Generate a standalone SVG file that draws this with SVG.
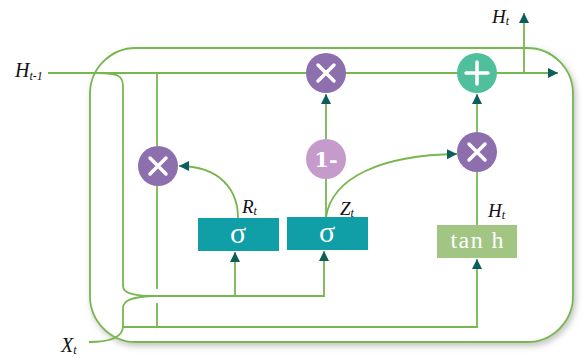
<svg xmlns="http://www.w3.org/2000/svg" width="582" height="358" viewBox="0 0 582 358">
<defs>
<filter id="sh" x="-10%" y="-10%" width="120%" height="125%">
<feDropShadow dx="2" dy="3" stdDeviation="3" flood-color="#777" flood-opacity="0.45"/>
</filter>
<marker id="arr" markerUnits="userSpaceOnUse" markerWidth="11" markerHeight="11" refX="10" refY="5.5" orient="auto" viewBox="0 0 11 11">
<path d="M0,0.5 L10,5.5 L0,10.5 z" fill="#0d5d5b"/>
</marker>
</defs>
<style>
.ln{fill:none;stroke:#78b74e;stroke-width:1.8}
.ar{marker-end:url(#arr)}
.mul{fill:#8d6fae}
.om{fill:#c59bcb}
.add{fill:#4fbf9c}
.sig{fill:#109ea7}
.th{fill:#a2c584}
.sym{stroke:#fff;stroke-width:3.5;stroke-linecap:round;fill:none}
.wt{fill:#fff;text-anchor:middle;font-family:"Liberation Serif","DejaVu Serif",serif}
.bd{font-family:"DejaVu Serif","Liberation Serif",serif;font-weight:bold}
.lb{font-style:italic;fill:#111;font-family:"Liberation Serif","DejaVu Serif",serif}
</style>
<rect x="90" y="48" width="483" height="294" rx="46" fill="#fff" stroke="#78b74e" stroke-width="1.8" filter="url(#sh)"/>
<g id="connectors">
<path class="ln ar" d="M48,73 L558,73"/>
<path class="ln ar" d="M524,73 L524,13"/>
<path class="ln" d="M98,73 C118,73 123,76 123,86 L123,286 C123,293 133,296 152,296"/>
<path class="ln ar" d="M150,296 L324,296 L324,251"/>
<path class="ln ar" d="M235,296 L235,252"/>
<path class="ln" d="M89,342 C108,342 123,338 123,326 L123,308 C123,300 133,297 152,296"/>
<path class="ln ar" d="M123,327 L477,327 L477,259"/>
<path class="ln" d="M157,73 L157,146"/>
<path class="ln" d="M157,186 L157,289 M157,303 L157,327"/>
<path class="ln ar" d="M238,218 C238,190 220,166 179,166"/>
<path class="ln ar" d="M326,139 L326,94"/>
<path class="ln" d="M326,217 L326,179"/>
<path class="ln ar" d="M326,217 C332,178 380,155 457,154"/>
<path class="ln ar" d="M477,132 L477,94"/>
<path class="ln" d="M477,225 L477,172"/>
</g>
<g id="mul_reset">
<circle class="mul" cx="158" cy="166" r="20"/>
<path class="sym" d="M150,158 L166,174 M166,158 L150,174"/>
</g>
<g id="mul_update">
<circle class="mul" cx="326" cy="73" r="20"/>
<path class="sym" d="M318,65 L334,81 M334,65 L318,81"/>
</g>
<g id="one_minus">
<circle class="om" cx="326" cy="159" r="20"/>
<text class="wt bd" x="326" y="167" font-size="21">1-</text>
</g>
<g id="add">
<circle class="add" cx="477" cy="73" r="20"/>
<path class="sym" stroke-width="4" d="M466,73 L488,73 M477,62 L477,84"/>
</g>
<g id="mul_cand">
<circle class="mul" cx="477" cy="152" r="20"/>
<path class="sym" d="M469,144 L485,160 M485,144 L469,160"/>
</g>
<g id="sigma_r">
<rect class="sig" x="198" y="218" width="81" height="33"/>
<text class="wt" x="238" y="243" font-size="30">σ</text>
</g>
<g id="sigma_z">
<rect class="sig" x="287" y="217" width="81" height="33"/>
<text class="wt" x="327" y="242" font-size="30">σ</text>
</g>
<g id="tanh">
<rect class="th" x="437" y="225" width="80" height="33"/>
<text class="wt" x="477" y="248" font-size="24" textLength="53" lengthAdjust="spacing">tan h</text>
</g>
<g id="labels">
<text class="lb" x="15" y="77" font-size="20">H<tspan font-size="12" dy="3">t-1</tspan></text>
<text class="lb" x="492" y="23" font-size="19">H<tspan font-size="12" dy="2">t</tspan></text>
<text class="lb" x="61" y="352" font-size="20">X<tspan font-size="12" dy="2">t</tspan></text>
<text class="lb" x="242" y="213" font-size="19">R<tspan font-size="12" dy="2">t</tspan></text>
<text class="lb" x="340" y="215" font-size="19">Z<tspan font-size="12" dy="2">t</tspan></text>
<text class="lb" x="488" y="217" font-size="19">H<tspan font-size="12" dy="2">t</tspan></text>
</g>
</svg>
